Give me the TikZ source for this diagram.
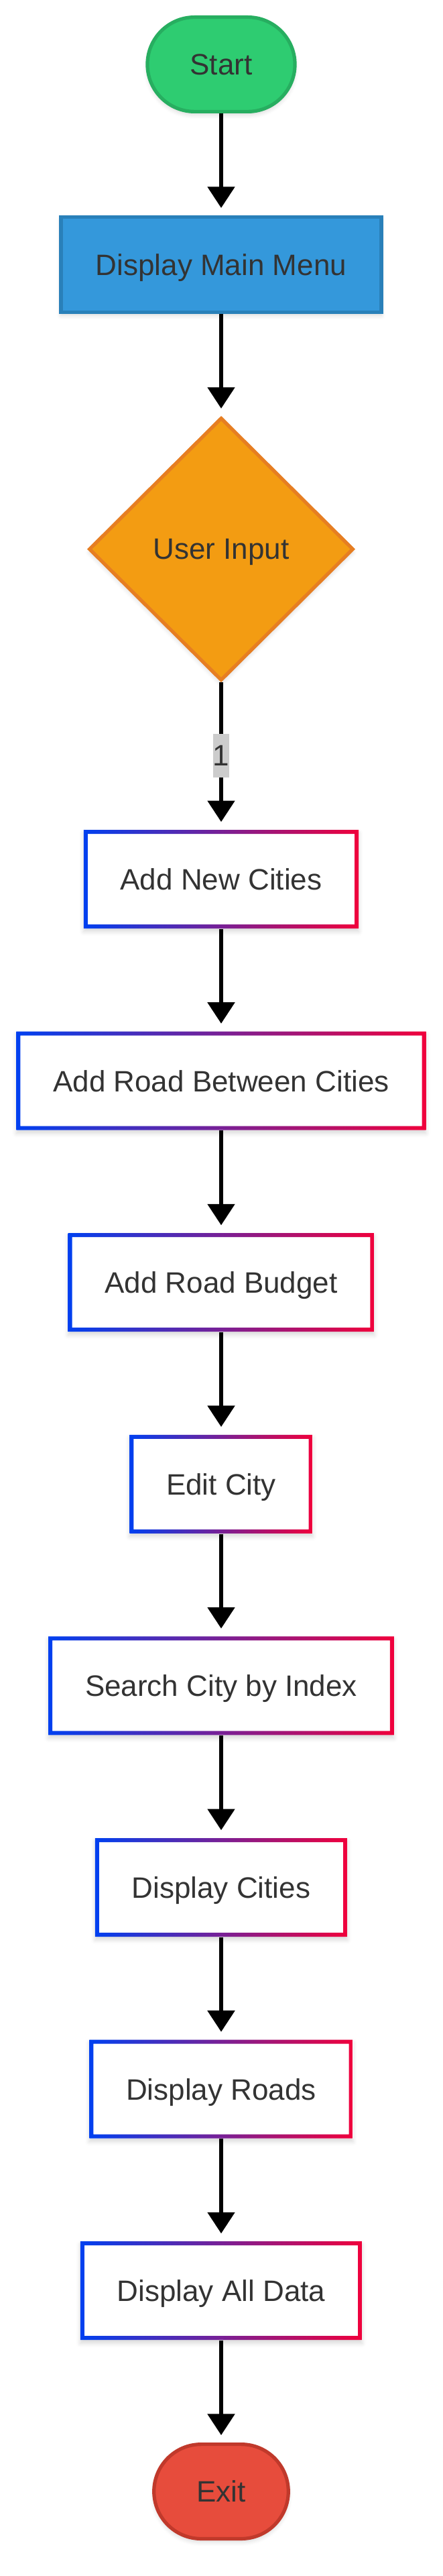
\documentclass[tikz,border=0pt]{standalone}
\usepackage{fontspec}
\setmainfont{Liberation Sans}
\usetikzlibrary{positioning,shapes.geometric,arrows.meta,shadows.blur}

\definecolor{ink}{HTML}{333333}
\definecolor{startfill}{HTML}{2ECC71}
\definecolor{startline}{HTML}{27AE60}
\definecolor{menufill}{HTML}{3498DB}
\definecolor{menuline}{HTML}{2980B9}
\definecolor{askfill}{HTML}{F39C12}
\definecolor{askline}{HTML}{E67E22}
\definecolor{exitfill}{HTML}{E74C3C}
\definecolor{exitline}{HTML}{C0392B}
\definecolor{gblue}{HTML}{0040F0}
\definecolor{gred}{HTML}{F0003C}
\definecolor{lblgray}{HTML}{CCCCCC}

\begin{document}
\begin{tikzpicture}[
    node distance=38pt,
    base/.style={font=\fontsize{11}{13}\selectfont, text=ink, text depth=0pt,
      blur shadow={shadow xshift=0pt, shadow yshift=-1.2pt,
        shadow blur radius=1.6pt, shadow opacity=15}},
    terminal/.style={base, rectangle, rounded corners=17.6pt,
      minimum height=35.2pt, inner xsep=15.9pt, line width=1.3pt},
    menubox/.style={base, rectangle, minimum height=35.45pt, inner xsep=13pt,
      line width=1.3pt, fill=menufill, draw=menuline},
    decision/.style={base, diamond, minimum width=98.7pt, minimum height=98pt,
      line width=1.3pt, fill=askfill, draw=askline},
    stepbox/.style={base, rectangle, fill=white, minimum height=36.75pt,
      inner xsep=13.7pt,
      path picture={
        \shade[even odd rule, left color=gblue, right color=gred]
          (path picture bounding box.south west)
            rectangle (path picture bounding box.north east)
          ([shift={(1.5pt,1.5pt)}]path picture bounding box.south west)
            rectangle ([shift={(-1.5pt,-1.5pt)}]path picture bounding box.north east);
      }},
    lbl/.style={fill=lblgray, text=ink, font=\fontsize{11}{13}\selectfont,
      inner xsep=0pt, inner ysep=0pt, minimum height=16.25pt, text depth=0pt},
    flow/.style={-{Triangle[width=10pt,length=7.9pt]}, line width=1.35pt,
      shorten >=2.75pt}
  ]
  \useasboundingbox (0,0) rectangle (165.25pt,-960pt);

  \node[terminal, fill=startfill, draw=startline] (start) at (82.5pt,-24pt) {Start};
  \node[menubox, below=of start] (menu) {Display Main Menu};
  \node[decision, below=of menu] (input) {User Input};
  \node[stepbox, below=54.75pt of input] (addcity) {Add New Cities};
  \node[stepbox, below=of addcity] (addroad) {Add Road Between Cities};
  \node[stepbox, below=of addroad] (budget) {Add Road Budget};
  \node[stepbox, below=of budget] (editcity) {Edit City};
  \node[stepbox, below=of editcity] (search) {Search City by Index};
  \node[stepbox, below=of search] (showcities) {Display Cities};
  \node[stepbox, below=of showcities] (showroads) {Display Roads};
  \node[stepbox, below=of showroads] (showall) {Display All Data};
  \node[terminal, fill=exitfill, draw=exitline, below=of showall] (exit) {Exit};

  \foreach \a/\b in {start/menu, menu/input, addcity/addroad, addroad/budget,
      budget/editcity, editcity/search, search/showcities,
      showcities/showroads, showroads/showall, showall/exit}
    \draw[flow] (\a) -- (\b);
  \draw[flow] (input) -- node[lbl] {1} (addcity);
\end{tikzpicture}
\end{document}
